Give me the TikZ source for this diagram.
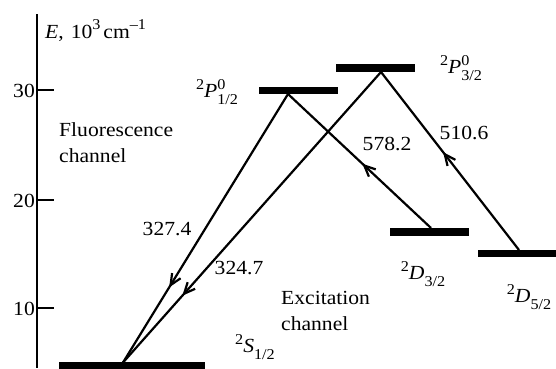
\documentclass[tikz,border=0pt]{standalone}
\usepackage{fontspec}
\setmainfont[FakeStretch=1.08]{Liberation Serif}
\usetikzlibrary{arrows.meta,decorations.markings}
\newcommand{\lblsz}{\fontsize{20}{26}\selectfont}
\newcommand{\smsz}{\fontsize{15}{15}\selectfont}
\newcommand{\supx}[1]{\raisebox{0.42em}{\smsz #1}}
\newcommand{\subx}[1]{\raisebox{-0.32em}{\smsz #1}}
\newcommand{\lev}[4]{\supx{#1}\textit{#2}\rlap{\supx{#3}}\subx{#4}}
\begin{document}
\begin{tikzpicture}[x=1pt,y=-1pt,
  bar/.style={fill=black,inner sep=0pt,minimum width=79pt,minimum height=7.5pt},
  trans/.style={line width=2.2pt},
  axisline/.style={line width=2pt},
  txt/.style={font=\lblsz,inner sep=0pt},
  arrowat/.style={postaction={decorate},decoration={markings,
     mark=at position #1 with {\arrow{Straight Barb[length=11pt,width=10pt]}}}}
]
\useasboundingbox (0,0) rectangle (556,368);
% axis
\draw[axisline] (37,14) coordinate (atop) -- (37,368) coordinate (abot);
\draw[axisline] (37,90) coordinate (t30) -- (54,90);
\draw[axisline] (37,200) coordinate (t20) -- (54,200);
\draw[axisline] (37,308) coordinate (t10) -- (54,308);
\node[txt,anchor=east] (l30) at (35,91) {30};
\node[txt,anchor=east] (l20) at (35,201) {20};
\node[txt,anchor=east] (l10) at (35,309) {10};
\node[txt,anchor=base west] (elab) at (45,38) {\textit{E},\hspace{7pt}10\supx{3}\hspace{3pt}cm\supx{–1}};
% levels
\node[bar,minimum width=146pt] (s) at (132,366) {};
\node[bar] (p1) at (298.5,90.5) {};
\node[bar] (p3) at (375.5,68) {};
\node[bar] (d3) at (429.5,232) {};
\node[bar] (d5) at (517.5,253.5) {};
% connector end points on the bars
\coordinate (sA) at (123,362.5);
\coordinate (p1A) at (288,94);
\coordinate (p3A) at (381,72);
\coordinate (d3A) at (431,228);
\coordinate (d5A) at (519,250);
% transitions
\draw[trans,arrowat=0.72] (p1A) -- (sA);
\draw[trans,arrowat=0.77] (p3A) -- (sA);
\draw[trans,arrowat=0.48] (d3A) -- (p1A);
\draw[trans,arrowat=0.55] (d5A) -- (p3A);
% labels
\node[txt] (w1) at (167,229) {327.4};
\node[txt] (w2) at (239,268) {324.7};
\node[txt] (w3) at (387,144) {578.2};
\node[txt] (w4) at (464,133) {510.6};
\node[txt] (n1) at (217,92) {\lev{2}{P}{0}{1/2}};
\node[txt] (n2) at (461,68) {\lev{2}{P}{0}{3/2}};
\node[txt] (n3) at (255,347) {\lev{2}{S}{}{1/2}};
\node[txt] (n4) at (423,274) {\lev{2}{D}{}{3/2}};
\node[txt] (n5) at (529,297) {\lev{2}{D}{}{5/2}};
\node[txt,align=left,anchor=west] (fc) at (59,143) {Fluorescence\\channel};
\node[txt,align=left,anchor=west] (ec) at (281,311) {Excitation\\channel};
\end{tikzpicture}
\end{document}
